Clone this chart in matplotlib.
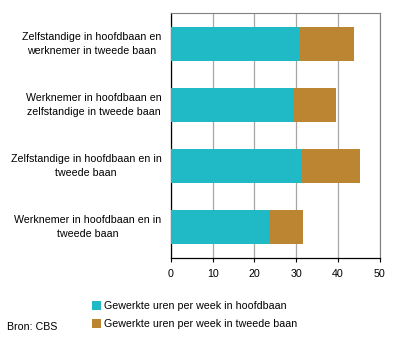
import numpy as np
import matplotlib.pyplot as plt
from matplotlib.transforms import blended_transform_factory

plt.rcParams['font.family'] = ['Liberation Sans', 'DejaVu Sans']
plt.rcParams['font.size'] = 7.7

categories = ['Werknemer in hoofdbaan en in\ntweede baan',
              'Zelfstandige in hoofdbaan en in\ntweede baan',
              'Werknemer in hoofdbaan en\nzelfstandige in tweede baan',
              'Zelfstandige in hoofdbaan en\nwerknemer in tweede baan']
hoofdbaan = [23.6, 31.5, 29.3, 30.9]
tweede_baan = [8.1, 13.7, 10.3, 13.0]
series_names = ['Gewerkte uren per week in hoofdbaan',
                'Gewerkte uren per week in tweede baan']

teal = '#1fbac6'
brown = '#bb8532'

fig = plt.figure(figsize=(3.96, 3.41), dpi=100)
ax = fig.add_axes([171/396, 1 - 257.7/341, 208.6/396, 244.4/341])

y = np.arange(len(categories))
ax.barh(y, hoofdbaan, height=0.56, color=teal, label=series_names[0], zorder=3)
ax.barh(y, tweede_baan, left=hoofdbaan, height=0.56, color=brown, label=series_names[1], zorder=3)

ax.set_xlim(0, 50)
ax.set_ylim(-0.5, len(categories) - 0.5)
ax.set_xticks([0, 10, 20, 30, 40, 50])
ax.set_yticks(y)
ax.set_yticklabels([])
ax.tick_params(axis='y', length=0)
trans = blended_transform_factory(fig.transFigure, ax.transData)
for yi, cat in zip(y, categories):
    ax.text(161.5/396, yi, cat, transform=trans,
            ha='right', va='center', multialignment='center', linespacing=1.5)
ax.tick_params(axis='x', length=3, width=0.8, direction='out', pad=5)
ax.grid(axis='x', color='#a6a6a6', linewidth=0.9, zorder=0)
for s in ['top', 'right']:
    ax.spines[s].set_color('#808080')
for s in ['left', 'bottom']:
    ax.spines[s].set_color('black')
    ax.spines[s].set_linewidth(0.9)

handles, labels = ax.get_legend_handles_labels()
fig.legend(handles, labels, loc='upper left', bbox_to_anchor=(88/396, 1 - 297/341),
           frameon=False, handlelength=0.8, handleheight=0.8, handletextpad=0.3,
           labelspacing=0.75, borderaxespad=0)
fig.text(7/396, 1 - 327/341, 'Bron: CBS', ha='left', va='center')

fig.savefig('out.png', dpi=100)
